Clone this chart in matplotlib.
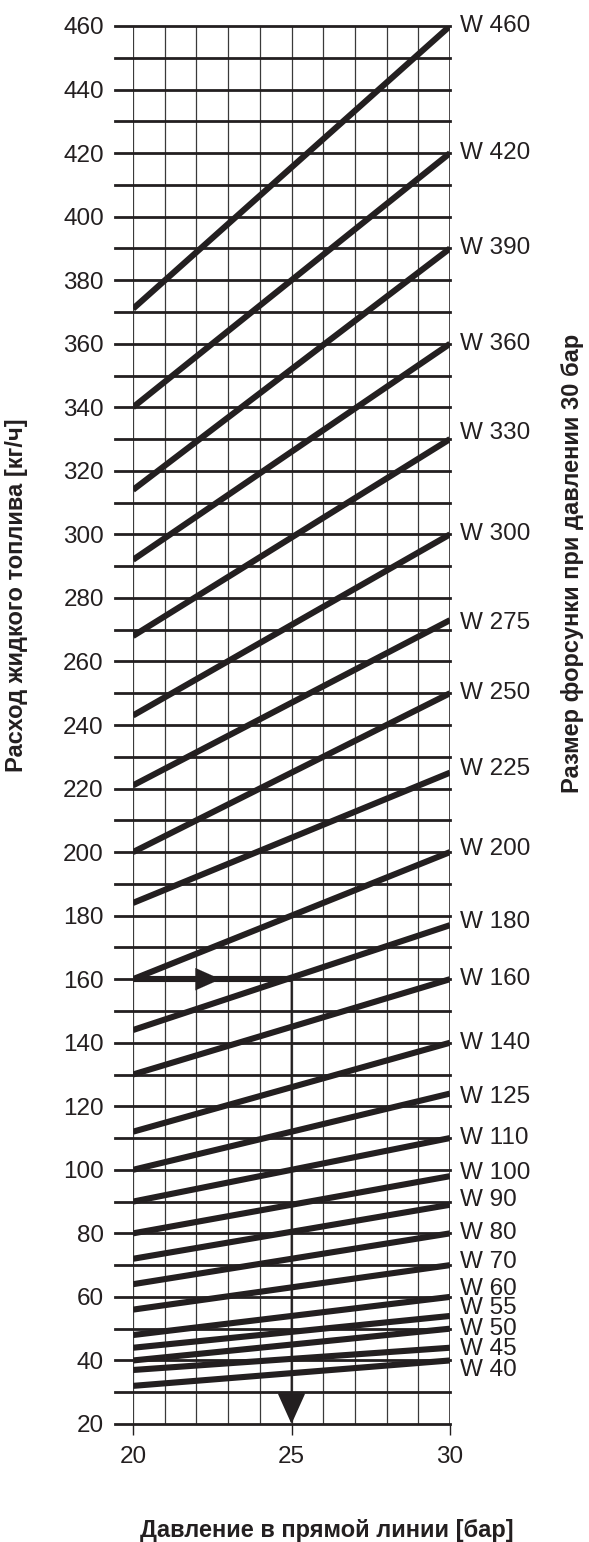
import matplotlib as mpl
mpl.use('Agg')
import matplotlib.pyplot as plt
import numpy as np

plt.rcParams['font.family'] = ['Liberation Sans', 'DejaVu Sans']

# nozzle sizes (flow at 30 bar) and flow read at 20 / 30 bar
nozzles = [460, 420, 390, 360, 330, 300, 275, 250, 225, 200, 180, 160,
           140, 125, 110, 100, 90, 80, 70, 60, 55, 50, 45, 40]
flow_20 = [371, 340, 314, 292, 268, 243, 221, 200, 184, 160, 144, 130,
           112, 100, 90, 80, 72, 64, 56, 48, 44, 40, 37, 32]
flow_30 = [460, 420, 390, 360, 330, 300, 273, 250, 225, 200, 177, 160,
           140, 124, 110, 98, 89, 80, 70, 60, 54, 50, 44, 40]
label_y = [460, 420, 390, 360, 332, 300, 272, 250, 226, 201, 178, 160,
           140, 123, 110, 99, 90.5, 80, 71, 62.5, 56.5, 50, 43.5, 37]
pressure = [20, 30]
example_pressure = 25
example_flow = 160

ink = '#231f20'
fig = plt.figure(figsize=(5.89, 15.42), dpi=100)
ax = fig.add_axes([133/589, 1-1424/1542, 317/589, 1398/1542])
ax.set_xlim(20, 30)
ax.set_ylim(20, 460)
for s in ax.spines.values():
    s.set_visible(False)

# grid
for xv in np.arange(20, 31, 1):
    ax.axvline(xv, color='#3a3a3a', lw=0.9, zorder=1)
for yv in np.arange(20, 461, 10):
    ax.axhline(yv, xmin=-0.057, xmax=1, color=ink, lw=2.0,
               clip_on=False, zorder=2)
ax.axvline(30, color=ink, lw=1.1, zorder=2)

# nozzle lines
for n, a, b, ly in zip(nozzles, flow_20, flow_30, label_y):
    ax.plot(pressure, [a, b], color=ink, lw=4.4,
            solid_capstyle='butt', zorder=3)
    ax.text(30.3, ly, 'W %d' % n, fontsize=17.5, va='center', ha='left',
            color=ink)

# example reading
ax.plot([20, example_pressure], [example_flow, example_flow],
        color=ink, lw=4.4, solid_capstyle='butt', zorder=4)
ax.annotate('', xy=(22.85, example_flow), xytext=(20, example_flow),
            arrowprops=dict(arrowstyle='-|>,head_length=0.9,head_width=0.4',
                            color=ink, lw=0.1, mutation_scale=20),
            zorder=5)
ax.annotate('', xy=(example_pressure, 20), xytext=(example_pressure, example_flow),
            arrowprops=dict(arrowstyle='-|>,head_length=1.0,head_width=0.45',
                            color=ink, lw=1.3, mutation_scale=20,
                            shrinkA=0, shrinkB=0),
            zorder=5)

ax.set_yticks(np.arange(20, 461, 20))
ax.tick_params(axis='y', length=0, pad=21, labelsize=17.5, labelcolor=ink)
ax.set_xticks([20, 25, 30])
ax.tick_params(axis='x', length=8, width=1.0, color=ink, pad=8,
               labelsize=17.5, labelcolor=ink)

fig.text(17/589, 1-595/1542, 'Расход жидкого топлива [кг/ч]', rotation=90,
         ha='center', va='center', fontsize=17, fontweight='bold', color=ink)
fig.text(573/589, 1-563/1542, 'Размер форсунки при давлении 30 бар', rotation=90,
         ha='center', va='center', fontsize=17, fontweight='bold', color=ink)
fig.text(140/589, 1-1530/1542, 'Давление в прямой линии [бар]',
         ha='left', va='center', fontsize=17, fontweight='bold', color=ink)

fig.savefig('out.png', dpi=100)
